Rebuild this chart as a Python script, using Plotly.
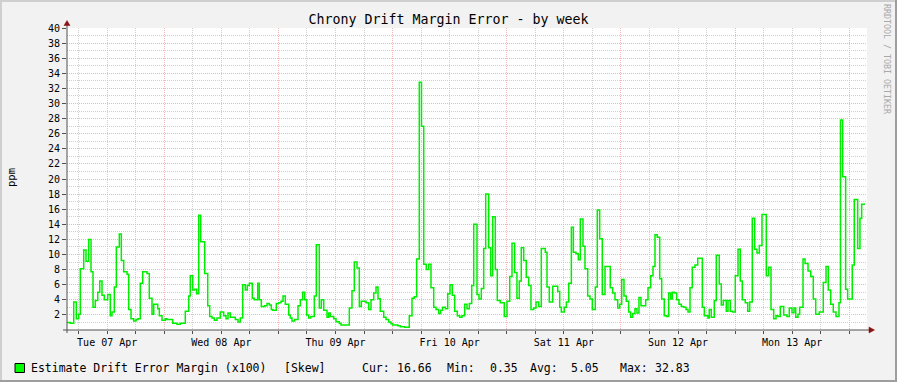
import pandas as pd
import plotly.graph_objects as go

# ---------------- data ----------------
BASE = "2020-04-07"            # hours below are counted from this midnight
hours = [
    3.55, 4.25, 4.96, 5.51, 6.01, 6.35, 7.06, 7.55, 8.11, 8.60,
    9.02, 9.50, 10.01, 10.43, 10.91, 11.39, 12.11, 12.65, 13.01, 13.50,
    13.92, 14.55, 14.97, 15.47, 16.17, 16.52, 17.01, 17.57, 18.06, 18.48,
    18.96, 19.47, 20.37, 20.85, 21.42, 21.78, 22.62, 22.96, 23.52, 24.22,
    24.57, 25.77, 26.68, 27.37, 28.42, 29.14, 29.47, 29.98, 30.40, 30.82,
    31.24, 31.66, 32.50, 33.13, 33.55, 34.03, 34.52, 35.08, 35.78, 36.49,
    36.98, 37.40, 37.88, 38.93, 39.50, 39.98, 40.49, 41.03, 41.45, 41.88,
    42.51, 42.93, 43.64, 43.98, 44.40, 45.11, 45.60, 46.08, 46.50, 46.79,
    47.55, 48.06, 48.54, 48.96, 49.44, 50.16, 50.49, 50.85, 51.42, 52.11,
    52.60, 53.10, 53.52, 53.94, 54.36, 54.78, 55.54, 55.96, 56.59, 57.01,
    57.52, 58.21, 58.57, 58.90, 59.62, 60.10, 60.79, 61.15, 62.90, 63.46,
    63.95, 64.52, 65.00, 65.42, 66.41, 66.98, 67.46, 68.03, 68.51, 68.93,
    69.41, 70.13, 70.61, 71.18, 71.66, 72.02, 73.07, 73.62, 74.54, 75.51,
    76.08, 76.56, 77.06, 77.61, 78.07, 78.54, 79.08, 79.59, 80.07, 80.64,
    81.12, 81.69, 82.11, 82.53, 83.08, 83.58, 84.07, 84.55, 85.05, 85.60,
    86.10, 86.59, 87.16, 87.64, 88.13, 88.63, 89.05, 89.74, 90.16, 90.65,
    91.15, 91.57, 92.20, 92.62, 93.04, 93.59, 94.01, 94.64, 95.48, 96.05,
    96.62, 97.10, 97.66, 98.14, 98.63, 99.05, 99.56, 100.10, 100.61, 101.09,
    101.66, 102.15, 102.72, 103.26, 104.10, 104.46, 104.94, 105.66, 106.71, 107.13,
    107.47, 108.10, 108.53, 109.03, 109.58, 110.00, 110.55, 111.04, 111.46, 112.02,
    112.44, 113.01, 113.50, 113.98, 114.61, 115.03, 115.53, 116.08, 116.65, 117.76,
    118.27, 118.75, 119.32, 119.74, 120.16, 120.64, 121.13, 121.63, 122.05, 122.47,
    122.95, 123.37, 123.79, 124.21, 125.20, 125.69, 126.26, 126.74, 127.16, 127.64,
    128.15, 128.57, 129.11, 129.62, 130.04, 130.46, 130.80, 131.22, 131.72, 132.20,
    132.69, 133.19, 133.68, 134.10, 134.52, 135.00, 135.57, 136.14, 137.11, 137.53,
    138.30, 138.57, 138.99, 139.62, 140.04, 140.67, 141.10, 141.52, 142.15, 142.51,
    142.99, 143.49, 144.04, 144.61, 145.09, 145.51, 146.14, 146.65, 147.07, 147.61,
    148.12, 148.60, 149.09, 149.65, 150.56, 151.06, 151.55, 152.11, 152.60, 153.02,
    153.50, 154.22, 154.91, 155.39, 155.96, 156.38, 156.74, 157.22, 157.58, 158.28,
    158.70, 159.33, 159.90, 160.44, 160.95, 161.70, 162.54, 163.11, 163.59, 164.10,
    164.64, 165.21, 165.84, 166.15, 166.61, 167.24, 167.66, 168.63, 169.05, 169.77,
    170.25, 170.61, 171.31,
]
ppm = [
    1.0, 0.9, 3.7, 1.5, 2.1, 8.1, 10.6, 9.1, 12.0, 7.7,
    3.0, 3.9, 5.0, 6.5, 4.6, 4.0, 4.7, 1.9, 2.4, 5.7,
    11.0, 12.7, 9.2, 7.7, 7.4, 2.7, 1.5, 1.2, 1.4, 1.5,
    6.2, 7.7, 7.5, 4.2, 2.1, 3.4, 2.8, 1.9, 1.3, 1.5,
    1.4, 0.9, 0.75, 0.9, 2.5, 4.5, 7.2, 5.3, 5.4, 4.8,
    15.2, 11.7, 7.5, 3.2, 1.8, 1.6, 1.3, 1.6, 2.4, 1.9,
    1.5, 2.25, 1.7, 1.4, 1.06, 1.6, 6.0, 5.3, 5.9, 6.2,
    4.2, 4.0, 6.2, 4.0, 3.1, 3.2, 3.5, 3.3, 2.7, 2.6,
    3.5, 3.6, 3.8, 4.5, 3.4, 2.0, 1.6, 1.2, 1.4, 3.2,
    4.0, 5.0, 4.0, 2.0, 1.6, 1.8, 4.5, 11.3, 2.9, 4.0,
    2.6, 1.7, 2.25, 1.8, 1.5, 1.1, 0.9, 0.66, 2.9, 5.2,
    9.0, 8.2, 3.1, 3.8, 3.6, 2.7, 4.0, 4.9, 5.7, 4.15,
    2.5, 1.7, 1.4, 1.06, 0.84, 0.66, 0.57, 0.44, 0.35, 1.9,
    4.2, 4.4, 9.4, 32.83, 27.0, 8.7, 8.0, 8.7, 5.6, 3.0,
    2.7, 2.2, 2.6, 3.0, 2.8, 4.8, 6.0, 4.6, 2.5, 1.9,
    1.7, 1.9, 3.4, 2.8, 3.5, 5.9, 14.0, 4.7, 4.1, 5.5,
    10.8, 18.0, 10.9, 7.2, 15.0, 8.0, 3.9, 3.6, 1.8, 3.8,
    7.1, 11.5, 7.6, 4.2, 6.5, 10.9, 9.2, 7.0, 5.9, 2.7,
    2.9, 3.7, 3.1, 10.8, 10.3, 5.7, 3.7, 5.8, 5.1, 3.0,
    2.4, 3.0, 3.7, 6.2, 13.6, 10.3, 10.1, 9.3, 14.7, 11.1,
    8.1, 4.5, 4.1, 2.7, 5.7, 15.9, 12.1, 4.7, 8.4, 5.6,
    4.9, 4.0, 2.9, 3.4, 6.7, 4.5, 3.8, 2.4, 1.7, 2.2,
    2.8, 2.25, 4.3, 3.2, 4.0, 5.6, 7.2, 8.4, 12.6, 12.3,
    6.8, 4.1, 1.9, 1.8, 4.9, 4.1, 5.0, 4.9, 4.0, 3.4,
    3.1, 3.0, 2.7, 2.4, 5.6, 8.3, 8.6, 9.5, 3.0, 1.9,
    1.6, 2.7, 1.7, 3.9, 9.9, 6.1, 3.3, 3.9, 2.5, 3.9,
    2.5, 2.4, 7.2, 10.7, 6.5, 4.0, 3.6, 2.5, 3.7, 14.8,
    10.7, 10.2, 11.2, 15.3, 7.2, 8.3, 2.7, 1.5, 1.9, 1.8,
    3.1, 2.0, 1.8, 2.9, 2.3, 2.9, 1.7, 2.1, 3.0, 9.4,
    8.8, 7.8, 7.1, 4.1, 2.1, 2.4, 6.3, 8.4, 5.3, 3.4,
    2.4, 1.8, 3.6, 27.8, 20.3, 5.4, 4.1, 8.6, 17.3, 10.8,
    14.8, 16.66, 16.66,
]
view_start_h = 3.55
view_end_h = 171.73
y_max = 40
y_tick_step = 2

title_text = "Chrony Drift Margin Error - by week"
y_label = "ppm"
credit = "RRDTOOL / TOBI OETIKER"
legend_name = "Estimate Drift Error Margin (x100)"
legend_tag = "[Skew]"
stat_names = ["Cur:", "Min:", "Avg:", "Max:"]
stat_values = ["16.66", "0.35", "5.05", "32.83"]

# ---------------- style ----------------
W, H = 897, 382
L, R, T, B = 67, 30, 28, 52
PW, PH = W - L - R, H - T - B
FONT = "DejaVu Sans Mono"
BG = "#F2F2F2"
GREEN = "#00EE00"
MGRID = "#F0B4B4"
GRID = "#D0D0D0"
AXIS = "#505050"
ARROW = "#8B1010"
DOT = "1px,1px"


def px(xp):
    return (xp - L) / PW


def py(yp):
    return (H - B - yp) / PH


base = pd.Timestamp(BASE)
times = base + pd.to_timedelta(hours, unit="h")
x0 = base + pd.Timedelta(hours=view_start_h)
x1 = base + pd.Timedelta(hours=view_end_h)

fig = go.Figure()
fig.add_trace(go.Scatter(
    x=times, y=ppm, mode="lines",
    line=dict(color=GREEN, width=1.5, shape="hv"),
    hoverinfo="skip", showlegend=False,
))

fig.update_layout(
    width=W, height=H,
    margin=dict(l=L, r=R, t=T, b=B),
    paper_bgcolor=BG, plot_bgcolor="#FFFFFF",
    font=dict(family=FONT, color="#000000"),
    showlegend=False,
    title=dict(text=title_text, x=0.5, xanchor="center", xref="container",
               y=1 - 19 / H, yanchor="middle", yref="container",
               font=dict(family=FONT, size=13.3, color="#000000")),
)

fig.update_xaxes(
    type="date", range=[x0, x1],
    tick0=BASE, dtick=86400000, ticklabelmode="period",
    tickformat="%a %d %b",
    tickfont=dict(family=FONT, size=10, color="#000000"),
    ticks="outside", ticklen=3, tickcolor=AXIS,
    showgrid=True, gridcolor=MGRID, griddash=DOT, gridwidth=1,
    minor=dict(dtick=21600000, tick0=BASE, showgrid=True, gridcolor=GRID,
               griddash=DOT, gridwidth=1, ticks="outside", ticklen=3,
               tickcolor=AXIS),
    showline=False, zeroline=False, layer="below traces",
)
fig.update_yaxes(
    range=[0, y_max],
    tickvals=list(range(y_tick_step, y_max + 1, y_tick_step)),
    tickfont=dict(family=FONT, size=10, color="#000000"),
    ticks="outside", ticklen=4, tickcolor=AXIS,
    showgrid=True, gridcolor=MGRID, griddash=DOT, gridwidth=1,
    minor=dict(dtick=1, tick0=0, showgrid=True, gridcolor=GRID,
               griddash=DOT, gridwidth=1),
    showline=False, zeroline=False, layer="below traces",
)

shapes = []
# frame of the image
shapes += [
    dict(type="rect", xref="paper", yref="paper", x0=px(0), x1=px(W), y0=py(0), y1=py(2),
         fillcolor="#CFCFCF", line=dict(width=0), layer="below"),
    dict(type="rect", xref="paper", yref="paper", x0=px(0), x1=px(2), y0=py(0), y1=py(H),
         fillcolor="#CFCFCF", line=dict(width=0), layer="below"),
    dict(type="rect", xref="paper", yref="paper", x0=px(0), x1=px(W), y0=py(H - 2), y1=py(H),
         fillcolor="#9E9E9E", line=dict(width=0), layer="below"),
    dict(type="rect", xref="paper", yref="paper", x0=px(W - 2), x1=px(W), y0=py(0), y1=py(H),
         fillcolor="#9E9E9E", line=dict(width=0), layer="below"),
]
# axes with arrows
shapes += [
    dict(type="line", xref="paper", yref="paper", x0=px(63), x1=px(870), y0=0, y1=0,
         line=dict(color=AXIS, width=1)),
    dict(type="line", xref="paper", yref="paper", x0=0, x1=0, y0=py(333), y1=py(24),
         line=dict(color=AXIS, width=1)),
    dict(type="path", xref="paper", yref="paper",
         path=f"M {px(64)} {py(25.5)} L {px(70)} {py(25.5)} L {px(67)} {py(20.5)} Z",
         fillcolor=ARROW, line=dict(color=ARROW, width=0.5)),
    dict(type="path", xref="paper", yref="paper",
         path=f"M {px(869)} {py(327)} L {px(869)} {py(333)} L {px(874.5)} {py(330)} Z",
         fillcolor=ARROW, line=dict(color=ARROW, width=0.5)),
]
# legend swatch
shapes.append(dict(type="rect", xref="paper", yref="paper",
                   x0=px(15), x1=px(24.5), y0=py(372.5), y1=py(363.5),
                   fillcolor="#00FF00", line=dict(color="#000000", width=1)))
fig.update_layout(shapes=shapes)

ann = []
ann.append(dict(text=y_label, xref="paper", yref="paper", x=px(11), y=py(177),
                textangle=-90, showarrow=False, xanchor="center", yanchor="middle",
                font=dict(family=FONT, size=10.5, color="#000000")))
ann.append(dict(text=credit, xref="paper", yref="paper", x=px(887), y=py(59),
                textangle=90, showarrow=False, xanchor="center", yanchor="middle",
                font=dict(family=FONT, size=8.3, color="#A8A8A8")))
leg_y = py(368)
leg_items = [(legend_name, 30), (legend_tag, 282.5)]
name_x = [361, 446, 528.5, 618.5]
val_x = [396, 488.5, 569.5, 653.5]
for n, xv in zip(stat_names, name_x):
    leg_items.append((n, xv))
for v, xv in zip(stat_values, val_x):
    leg_items.append((v, xv))
for txt, xv in leg_items:
    ann.append(dict(text=txt, xref="paper", yref="paper", x=px(xv), y=leg_y,
                    showarrow=False, xanchor="left", yanchor="middle", borderpad=0,
                    font=dict(family=FONT, size=11.5, color="#000000")))
fig.update_layout(annotations=ann)

fig.write_html("out.html")
